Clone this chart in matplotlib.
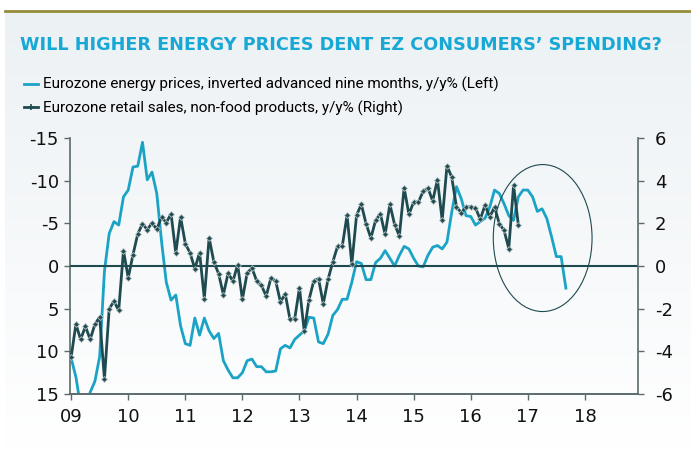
import numpy as np
import matplotlib
matplotlib.use('Agg')
import matplotlib.pyplot as plt
from matplotlib.patches import Ellipse
from matplotlib.lines import Line2D

plt.rcParams['axes.unicode_minus'] = False

# monthly data, starting Jan 2009
energy = [10.8, 13.0, 16.5, 17.0, 14.8, 13.5, 10.6, 0.6, -3.8, -5.2, -4.8, -8.1,
          -8.9, -11.6, -11.7, -14.5, -10.1, -11.0, -8.5, -2.9, 1.9, 4.0, 3.4, 7.0,
          9.1, 9.3, 6.1, 8.1, 6.1, 7.6, 8.5, 7.9, 11.1, 12.2, 13.1, 13.1,
          12.5, 11.1, 10.9, 11.8, 11.8, 12.4, 12.4, 12.3, 9.7, 9.3, 9.6, 8.6,
          8.1, 7.6, 6.0, 6.1, 8.9, 9.1, 8.0, 5.8, 5.1, 3.9, 3.9, 1.9,
          -0.5, -0.3, 1.6, 1.6, -0.4, -0.9, -1.8, -0.9, 0.0, -1.25, -2.3, -2.0,
          -0.9, 0.0, 0.1, -1.25, -2.2, -2.4, -2.0, -2.8, -6.3, -9.3, -7.9, -5.9,
          -5.8, -4.8, -5.2, -5.6, -6.9, -8.9, -8.5, -7.3, -5.9, -5.35, -8.1, -8.9,
          -8.9, -8.1, -6.4, -6.7, -5.55, -3.4, -1.1, -1.1, 2.6]
retail = [-4.27, -2.73, -3.44, -2.83, -3.44, -2.73, -2.39, -5.31, -2.0, -1.66, -2.08, 0.72,
          -0.55, 0.53, 1.5, 1.98, 1.70, 2.02, 1.72, 2.30, 2.03, 2.45, 0.61, 2.30,
          1.05, 0.61, -0.125, 0.625, -1.53, 1.33, 0.19, -0.36, -1.34, -0.33, -0.72, 0.06,
          -1.56, -0.33, -0.09, -0.70, -0.91, -1.41, -0.56, -0.70, -1.69, -1.30, -2.5, -2.47,
          -1.02, -3.06, -1.58, -0.70, -0.59, -1.77, -0.63, 0.19, 0.92, 0.94, 2.38, 0.08,
          2.38, 2.89, 1.98, 1.31, 2.14, 2.45, 1.48, 2.89, 1.94, 1.41, 3.67, 2.42,
          3.0, 3.0, 3.5, 3.66, 3.05, 4.05, 2.14, 4.69, 4.17, 2.77, 2.5, 2.77,
          2.77, 2.72, 2.19, 2.85, 2.3, 2.77, 1.99, 1.67, 0.82, 3.78, 1.94]
years = list(range(2009, 2019))
year_labels = ['09', '10', '11', '12', '13', '14', '15', '16', '17', '18']

title = 'WILL HIGHER ENERGY PRICES DENT EZ CONSUMERS\u2019 SPENDING?'
lab_energy = 'Eurozone energy prices, inverted advanced nine months, y/y% (Left)'
lab_retail = 'Eurozone retail sales, non-food products, y/y% (Right)'

blue = '#1ba3c6'
dark = '#1f4a4f'
axcol = '#5b6b6d'

x_e = 2009 + np.arange(len(energy)) / 12
x_r = 2009 + np.arange(len(retail)) / 12

fig = plt.figure(figsize=(6.91, 4.49), dpi=100)

# background panel with soft gradient
bg = fig.add_axes([5/691, 0, 1 - 5/691, 1 - 12/449], zorder=-10)
grad = np.linspace(0, 1, 256).reshape(-1, 1)
top = np.array([236, 241, 244]) / 255
bot = np.array([255, 255, 255]) / 255
img = top + (bot - top) * grad[:, :, None]
bg.imshow(img, aspect='auto', extent=[0, 1, 0, 1])
bg.axis('off')
fig.add_artist(Line2D([5/691, 1], [1 - 11/449, 1 - 11/449], color='#958d3a', lw=2))

fig.text(20/691, 1 - 45/449, title, color='#17a8d6', fontsize=12.7, fontweight='bold', va='center')

ax = fig.add_axes([70/691, 1 - 394/449, 568/691, 256/449])
ax.patch.set_alpha(0)
ax2 = ax.twinx()

l1, = ax.plot(x_e, energy, color=blue, lw=2)
ax.set_ylim(15, -15)
ax.set_yticks([-15, -10, -5, 0, 5, 10, 15])
ax.set_xlim(2008.98, 2018.93)
ax.set_xticks(years)
ax.set_xticklabels(year_labels)

ax2.axhline(0, color=dark, lw=1.5, zorder=1)
l2, = ax2.plot(x_r, retail, color=dark, lw=2, marker='D', markersize=3,
               markerfacecolor=dark, markeredgecolor='#b9c4c4', markeredgewidth=0.6, zorder=3)
ax2.set_ylim(-6, 6)
ax2.set_yticks([-6, -4, -2, 0, 2, 4, 6])

ax2.add_patch(Ellipse((2017.26, 1.31), 1.73, 6.89, fill=False, edgecolor=dark, lw=0.8, zorder=4))

for a in (ax, ax2):
    a.spines['top'].set_visible(False)
    for s in ('left', 'right', 'bottom'):
        a.spines[s].set_color(axcol)
        a.spines[s].set_linewidth(1.2)
    a.tick_params(colors=axcol, labelcolor='#111111', labelsize=13, length=4, width=1, pad=4)
ax2.spines['left'].set_visible(False)
ax.spines['right'].set_visible(False)
ax.tick_params(axis='x', pad=6)
ax2.tick_params(axis='y', pad=8)

h1 = Line2D([], [], color=blue, lw=2)
h2 = Line2D([], [], color=dark, lw=2, marker='+', markersize=5, markeredgewidth=1.2)
fig.legend([h1, h2], [lab_energy, lab_retail], loc='upper left',
           bbox_to_anchor=(18/691, 1 - 71/449), frameon=False,
           prop={'family': ['Roboto', 'DejaVu Sans'], 'size': 11},
           handlelength=0.9, handletextpad=0.35, labelspacing=0.55, borderaxespad=0)

fig.savefig('out.png', dpi=100)
